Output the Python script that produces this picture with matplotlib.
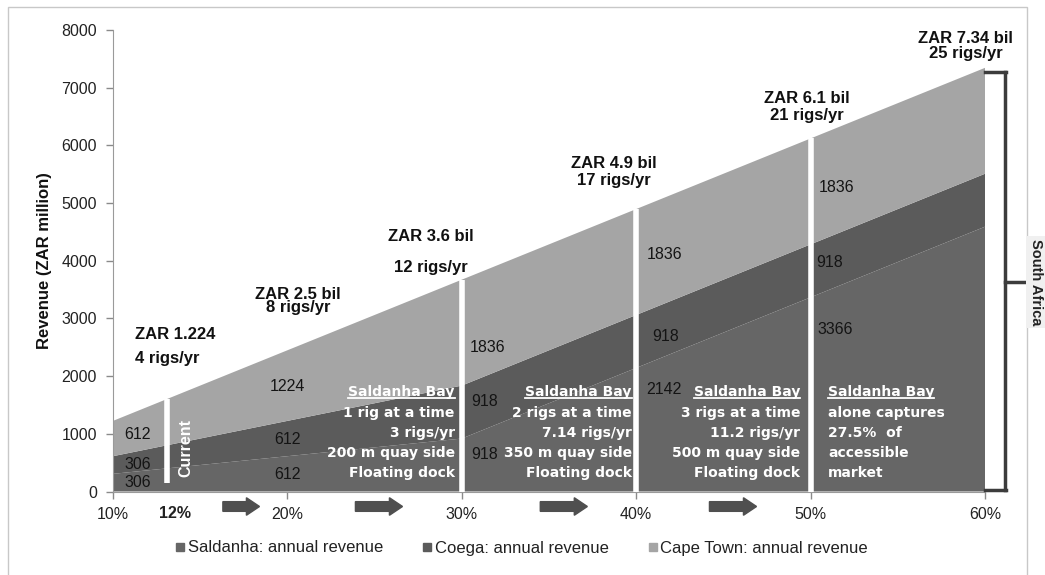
import matplotlib
matplotlib.use("Agg")
import matplotlib.pyplot as plt
import matplotlib.transforms as mtransforms
from matplotlib.patches import FancyArrow, Rectangle
from matplotlib.lines import Line2D

# ---------------- data ----------------
coverage = [10, 20, 30, 40, 50, 60]          # % of accessible market
saldanha = [306, 612, 918, 2142, 3366, 4590]
coega = [306, 612, 918, 918, 918, 918]
cape_town = [612, 1224, 1836, 1836, 1836, 1836]
series_names = ["Saldanha: annual revenue", "Coega: annual revenue", "Cape Town: annual revenue"]
x_ticks = [10, 20, 30, 40, 50, 60]
y_ticks = [0, 1000, 2000, 3000, 4000, 5000, 6000, 7000, 8000]
headlines = [("ZAR 1.224", "4 rigs/yr"), ("ZAR 2.5 bil", "8 rigs/yr"), ("ZAR 3.6 bil", "12 rigs/yr"),
             ("ZAR 4.9 bil", "17 rigs/yr"), ("ZAR 6.1 bil", "21 rigs/yr"), ("ZAR 7.34 bil", "25 rigs/yr")]
saldanha_notes = [
    ["Saldanha Bay", "1 rig at a time", "3 rigs/yr", "200 m quay side", "Floating dock"],
    ["Saldanha Bay", "2 rigs at a time", "7.14 rigs/yr", "350 m quay side", "Floating dock"],
    ["Saldanha Bay", "3 rigs at a time", "11.2 rigs/yr", "500 m quay side", "Floating dock"],
    ["Saldanha Bay", "alone captures", "27.5%  of", "accessible", "market"],
]
current_pos = 13.1
separators = [30, 40, 50]

# ---------------- style ----------------
colors = ["#666666", "#5b5b5b", "#a5a5a5"]
FONT = "Liberation Sans"
plt.rcParams["font.family"] = [FONT, "DejaVu Sans"]

W, H = 1045, 575
fig = plt.figure(figsize=(W / 100, H / 100), dpi=100)
ax = fig.add_axes([113 / W, (H - 491.5) / H, (985 - 113) / W, (491.5 - 30) / H])
ax.set_xlim(10, 60)
ax.set_ylim(0, 8000)

ax.stackplot(coverage, saldanha, coega, cape_town, colors=colors, labels=series_names, zorder=2)

totals = [a + b + c for a, b, c in zip(saldanha, coega, cape_town)]


def total_at(x):
    for i in range(len(coverage) - 1):
        if coverage[i] <= x <= coverage[i + 1]:
            f = (x - coverage[i]) / (coverage[i + 1] - coverage[i])
            return totals[i] + f * (totals[i + 1] - totals[i])
    return totals[-1]


# white separator lines
ax.vlines(current_pos, 140, total_at(current_pos), colors="white", lw=4, zorder=3)
for s in separators:
    ax.vlines(s, 0, total_at(s), colors="white", lw=4, zorder=3)

# axes styling
for sp in ["top", "right"]:
    ax.spines[sp].set_visible(False)
ax.spines["left"].set_color("#9a9a9a")
ax.spines["bottom"].set_color("#9a9a9a")
ax.set_xticks(x_ticks)
ax.set_xticklabels([f"{t}%" for t in x_ticks])
ax.set_yticks(y_ticks)
ax.tick_params(axis="both", colors="#8a8a8a", labelcolor="#222222", labelsize=11.5, length=5, width=1)
ax.tick_params(axis="y", pad=6.5)
ax.tick_params(axis="x", pad=6)

# bold 12% label
xt = mtransforms.blended_transform_factory(ax.transData, ax.transAxes)
ax.text(13.55, -0.047, "12%", transform=xt, ha="center", va="center", fontsize=11.5,
        fontweight="bold", color="#222222")

fig.text(45 / W, 1 - 261 / H, "Revenue (ZAR million)", rotation=90, ha="center", va="center",
         fontsize=12, fontweight="bold", color="#111111")

# value labels inside areas (positions are layout only)
seg_idx = [0, 1, 2, 3, 4]
cape_pos = [(11.4, 983), (20.0, 1817), (31.5, 2496), (41.6, 4113), (51.5, 5278)]
coega_pos = [(11.4, 461), (20.0, 896), (31.3, 1557), (41.7, 2687), (51.1, 3974)]
sald_pos = [(11.4, 148), (20.0, 287), (31.3, 635), (41.6, 1765), (51.4, 2809)]
for i, (pc, pg, ps) in zip(seg_idx, zip(cape_pos, coega_pos, sald_pos)):
    ax.text(pc[0], pc[1], str(cape_town[i]), ha="center", va="center", fontsize=11.5, color="#141414", zorder=5)
    ax.text(pg[0], pg[1], str(coega[i]), ha="center", va="center", fontsize=11.5, color="#141414", zorder=5)
    ax.text(ps[0], ps[1], str(saldanha[i]), ha="center", va="center", fontsize=11.5, color="#141414", zorder=5)

# headline annotations
head_pos = [(11.26, 2722, 2304, "left"), (20.6, 3417, 3191, "center"), (28.2, 4426, 3887, "center"),
            (38.7, 5687, 5391, "center"), (49.8, 6809, 6513, "center"), (58.9, 7852, 7591, "center")]
for (l1, l2), (x, y1, y2, ha) in zip(headlines, head_pos):
    ax.text(x, y1, l1, ha=ha, va="center", fontsize=12, fontweight="bold", color="#111111", zorder=6)
    ax.text(x, y2, l2, ha=ha, va="center", fontsize=12, fontweight="bold", color="#111111", zorder=6)

# Saldanha Bay notes
note_y = [1724, 1360, 1014, 667, 321]
note_x = [(29.6, "right"), (39.75, "right"), (49.4, "right"), (51.0, "left")]
title_texts = []
for lines, (x, ha) in zip(saldanha_notes, note_x):
    for k, (ln, y) in enumerate(zip(lines, note_y)):
        t = ax.text(x, y, ln, ha=ha, va="center", fontsize=10, fontweight="bold", color="white",
                    family="DejaVu Sans", zorder=6)
        if k == 0:
            title_texts.append(t)

# Current label
ax.text(14.2, 760, "Current", rotation=90, ha="center", va="center", fontsize=11.5,
        fontweight="bold", color="white", zorder=6)

# arrows below axis
arrow_x = [(16.3, 18.4), (23.9, 26.6), (34.5, 37.2), (44.2, 46.9)]
for x0, x1 in arrow_x:
    ar = FancyArrow(x0, -0.0325, x1 - x0, 0, width=0.021, head_width=0.038, head_length=0.75,
                    length_includes_head=True, transform=xt, color="#4f4f4f", clip_on=False, zorder=4)
    ax.add_patch(ar)

# legend
handles = [Line2D([], [], marker="s", linestyle="none", markersize=6, color=c) for c in colors]
fig.legend(handles, series_names, loc="center", bbox_to_anchor=(522 / W, 1 - 548 / H), ncol=3,
           frameon=False, fontsize=12, handlelength=0.5, handletextpad=0.2, columnspacing=2.4,
           labelcolor="#222222")


def px(x, y):
    return x / W, 1 - y / H


# bracket on the right
bc = "#3c3c3c"
for (xa, ya), (xb, yb) in [((985, 72), (1006, 72)), ((1005, 72), (1005, 490)), ((985, 490), (1006, 490)),
                           ((1005, 282), (1027, 282))]:
    (fx0, fy0), (fx1, fy1) = px(xa, ya), px(xb, yb)
    fig.add_artist(Line2D([fx0, fx1], [fy0, fy1], transform=fig.transFigure, color=bc, lw=2.5,
                          solid_capstyle="projecting"))

# chart border
fig.add_artist(Rectangle(px(8, 585), (1027 - 8) / W, (585 - 7) / H, transform=fig.transFigure,
                         fill=False, edgecolor="#c8c8c8", lw=1))

fig.text(1036 / W, 1 - 282 / H, "South Africa", rotation=-90, ha="center", va="center", fontsize=10.5,
         fontweight="bold", color="#222222",
         bbox=dict(facecolor="#f0f0f0", edgecolor="none", pad=2))

# underline Saldanha Bay titles
fig.canvas.draw()
r = fig.canvas.get_renderer()
for t in title_texts:
    bb = t.get_window_extent(r)
    yline = bb.y0 + 1.5
    fig.add_artist(Line2D([bb.x0, bb.x1], [yline, yline], transform=mtransforms.IdentityTransform(),
                          color="white", lw=1.3))

fig.savefig("out.png", dpi=100)
